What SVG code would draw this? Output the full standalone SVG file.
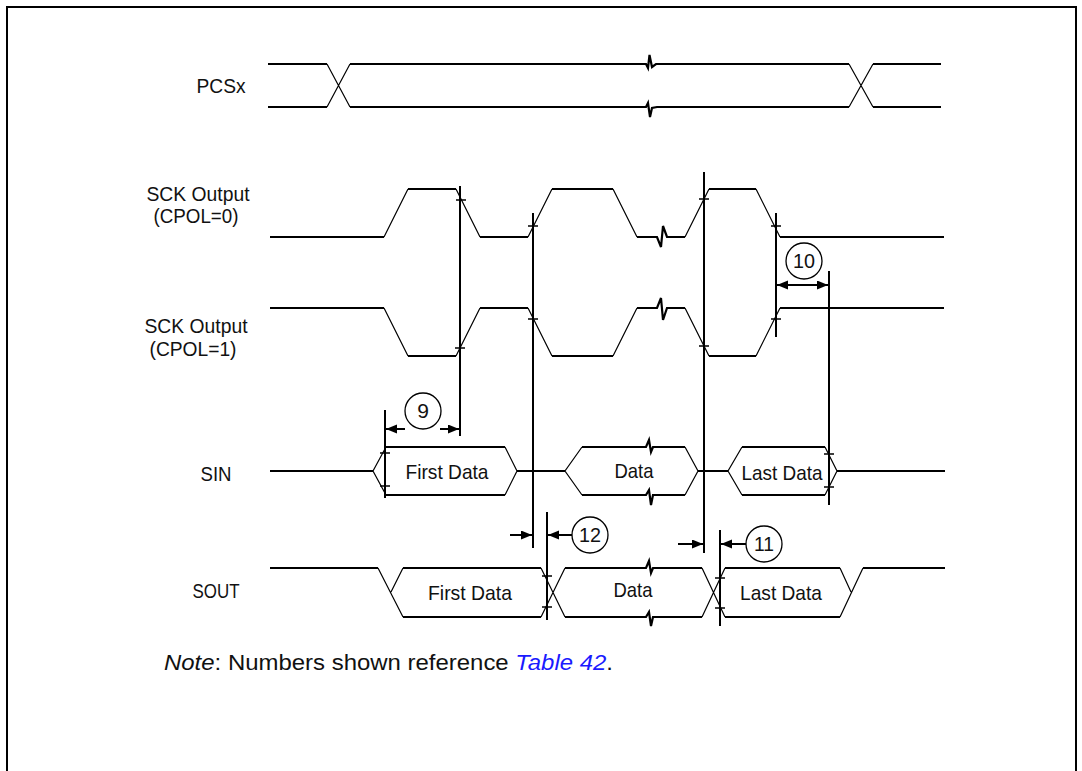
<svg xmlns="http://www.w3.org/2000/svg" width="1082" height="771" viewBox="0 0 1082 771">
<style>
.w{fill:none;stroke:#000;stroke-width:2.2;stroke-linejoin:miter}
.d{fill:none;stroke:#000;stroke-width:1.2}
.v{fill:none;stroke:#000;stroke-width:2}
.t{fill:none;stroke:#000;stroke-width:1.6}
.a{fill:none;stroke:#000;stroke-width:2}
.c{fill:#fff;stroke:#000;stroke-width:1.3}
text{font-family:"Liberation Sans",Arial,sans-serif;font-size:21px;fill:#111}
.m{text-anchor:middle}
.n{font-size:22px}
</style>
<defs>
<marker id="ah" markerUnits="userSpaceOnUse" markerWidth="12" markerHeight="10" refX="11" refY="4.5" orient="auto">
<path d="M0,0 L11,4.5 L0,9 z" fill="#000"/>
</marker>
</defs>
<rect x="7" y="7" width="1069" height="780" fill="none" stroke="#000" stroke-width="2"/>

<g id="label-pcsx"><text x="221" y="93" class="m" textLength="49" lengthAdjust="spacingAndGlyphs">PCSx</text></g>
<g id="label-sck0"><text x="198" y="201" class="m" textLength="103" lengthAdjust="spacingAndGlyphs">SCK Output</text><text x="196" y="223" class="m" textLength="85" lengthAdjust="spacingAndGlyphs">(CPOL=0)</text></g>
<g id="label-sck1"><text x="196" y="333" class="m" textLength="103" lengthAdjust="spacingAndGlyphs">SCK Output</text><text x="193" y="356" class="m" textLength="87" lengthAdjust="spacingAndGlyphs">(CPOL=1)</text></g>
<g id="label-sin"><text x="216" y="481" class="m" textLength="31" lengthAdjust="spacingAndGlyphs">SIN</text></g>
<g id="label-sout"><text x="216" y="598" class="m" textLength="47" lengthAdjust="spacingAndGlyphs">SOUT</text></g>

<g id="pcsx">
<path class="w" d="M268,64 H327 M350,64 H646 L648,68 L649.5,55 L652,67 L656,64 H849 M873,64 H941"/>
<path class="w" d="M268,107 H327 M350,107 H646 L648,103 L650,117 L652,108 L657,107 H849 M873,107 H941"/>
<path class="d" d="M327,64 L350,107 M327,107 L350,64 M849,64 L873,107 M849,107 L873,64"/>
</g>

<g id="sck-cpol0">
<path class="w" d="M270,237 H384 M408,189 H456 M480,237 H528 M552,189 H613 M637,237 H657 L661,247 L663,226 L667,237 H685 M709,189 H756 M780,237 H944"/>
<path class="d" d="M384,237 L408,189 M456,189 L480,237 M528,237 L552,189 M613,189 L637,237 M685,237 L709,189 M756,189 L780,237"/>
</g>
<g id="sck-cpol1">
<path class="w" d="M270,308 H384 M408,356 H456 M480,308 H528 M552,356 H613 M637,308 H657 L661,298 L663,320 L667,308 H685 M709,356 H756 M780,308 H944"/>
<path class="d" d="M384,308 L408,356 M456,356 L480,308 M528,308 L552,356 M613,356 L637,308 M685,308 L709,356 M756,356 L780,308"/>
</g>

<g id="sin">
<path class="w" d="M270,471 H373 M517,471 H565 M698,471 H728 M837,471 H945"/>
<path class="w" d="M386,447 H505 M386,495 H505"/>
<path class="d" d="M386,447 L373,471 L386,495 M505,447 L517,471 L505,495"/>
<path class="w" d="M582,447 H646 L649,440 L651,452 L653,447 H685 M582,495 H646 L649,490 L651,505 L653,495 H685"/>
<path class="d" d="M582,447 L565,471 L582,495 M685,447 L698,471 L685,495"/>
<path class="w" d="M742,447 H825 M742,495 H825"/>
<path class="d" d="M742,447 L728,471 L742,495 M825,447 L837,471 L825,495"/>
<text x="447" y="479" class="m" textLength="83" lengthAdjust="spacingAndGlyphs">First Data</text>
<text x="634" y="478" class="m" textLength="39" lengthAdjust="spacingAndGlyphs">Data</text>
<text x="782" y="480" class="m" textLength="81" lengthAdjust="spacingAndGlyphs">Last Data</text>
</g>

<g id="sout">
<path class="w" d="M270,568 H378 M403,568 H541 M403,617 H541 M565,568 H646 L649,561 L651,573 L653,568 H702 M565,617 H646 L649,612 L651,626 L653,617 H702 M725,568 H840 M725,617 H840 M863,568 H945"/>
<path class="d" d="M378,568 L403,617 M391,592 L403,568 M541,568 L565,617 M541,617 L565,568 M702,568 L725,617 M702,617 L725,568 M840,568 L851,592 M840,617 L863,568"/>
<text x="470" y="600" class="m" textLength="84" lengthAdjust="spacingAndGlyphs">First Data</text>
<text x="633" y="597" class="m" textLength="39" lengthAdjust="spacingAndGlyphs">Data</text>
<text x="781" y="600" class="m" textLength="82" lengthAdjust="spacingAndGlyphs">Last Data</text>
</g>

<g id="connectors">
<path class="v" d="M460,186 V436 M533,213 V548 M704,172 V553 M776,213 V337 M829,271 V505 M385,410 V498 M547,512 V620 M720,530 V626"/>
<path class="t" d="M456,200 H466 M455,348 H465 M528,226 H538 M528,319 H538 M699,199 H709 M699,346 H709 M771,226 H781 M771,319 H781 M824,454 H834 M824,487 H834 M380,453 H390 M380,486 H390 M542,576 H552 M542,607 H552 M715,578 H725 M715,608 H725"/>
<path class="a" d="M405,429 H386" marker-end="url(#ah)"/>
<path class="a" d="M440,429 H459" marker-end="url(#ah)"/>
<path class="a" d="M800,285 H777" marker-end="url(#ah)"/>
<path class="a" d="M800,285 H828" marker-end="url(#ah)"/>
<path class="a" d="M510,535 H532" marker-end="url(#ah)"/>
<path class="a" d="M572,535 H548" marker-end="url(#ah)"/>
<path class="a" d="M678,544 H703" marker-end="url(#ah)"/>
<path class="a" d="M746,544 H721" marker-end="url(#ah)"/>
</g>

<g id="callout-9"><circle class="c" cx="423" cy="411" r="18"/><text x="423" y="418" class="m" font-size="20">9</text></g>
<g id="callout-10"><circle class="c" cx="804" cy="261" r="18"/><text x="804" y="268" class="m" textLength="22" lengthAdjust="spacingAndGlyphs">10</text></g>
<g id="callout-12"><circle class="c" cx="590" cy="535" r="18"/><text x="590" y="542" class="m" textLength="22" lengthAdjust="spacingAndGlyphs">12</text></g>
<g id="callout-11"><circle class="c" cx="764" cy="544" r="18"/><text x="764" y="551" class="m" textLength="20" lengthAdjust="spacingAndGlyphs">11</text></g>

<g id="note"><text x="164" y="670" class="n" textLength="449" lengthAdjust="spacingAndGlyphs"><tspan font-style="italic">Note</tspan>: Numbers shown reference <tspan font-style="italic" fill="#1a1aff">Table 42</tspan>.</text></g>
</svg>
